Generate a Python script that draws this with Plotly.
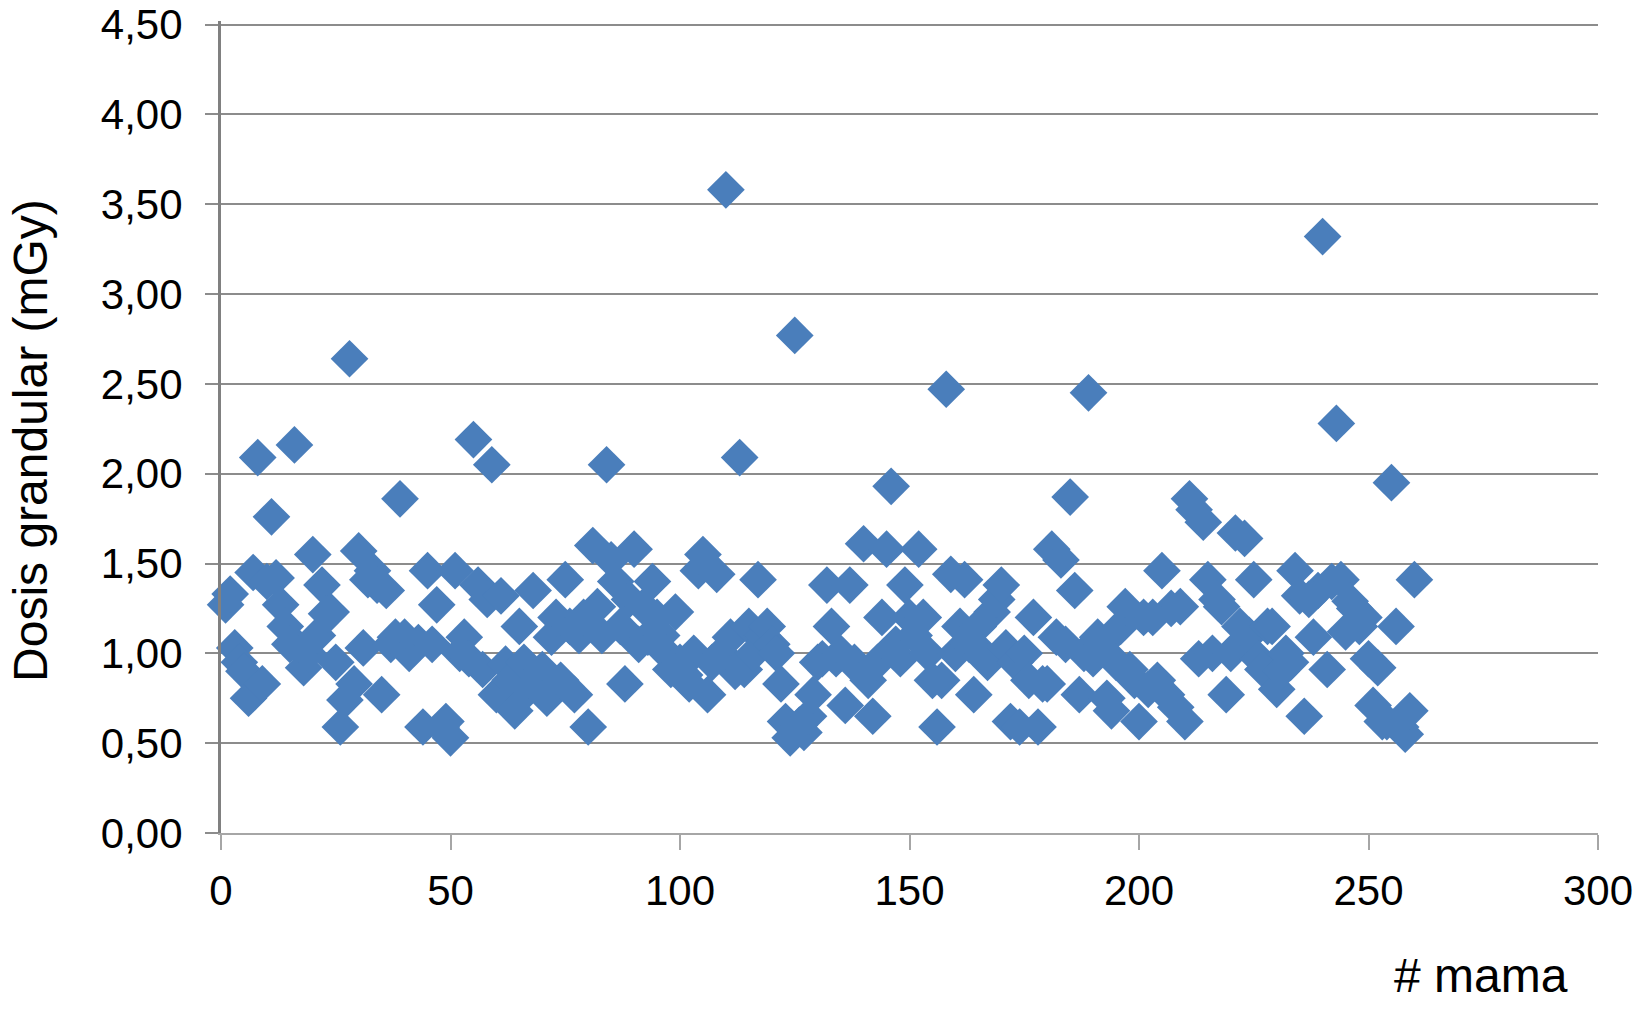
import plotly.graph_objects as go

# dose per breast (index 1..260)
mama = list(range(1, 261))
dosis = [
    1.27, 1.33, 1.03, 0.95, 0.90, 0.75, 1.45, 2.09, 0.83, 1.40,
    1.76, 1.42, 1.27, 1.15, 1.05, 2.16, 1.03, 0.92, 1.00, 1.55,
    1.10, 1.38, 1.22, 1.23, 0.95, 0.59, 0.74, 2.64, 0.83, 1.57,
    1.03, 1.41, 1.46, 1.38, 0.77, 1.35, 1.05, 1.09, 1.86, 1.09,
    1.00, 1.03, 1.06, 0.59, 1.46, 1.05, 1.27, 0.59, 0.62, 0.53,
    1.46, 1.00, 1.09, 0.97, 2.19, 1.38, 0.91, 1.30, 2.05, 0.77,
    1.32, 0.94, 0.85, 0.68, 1.15, 0.95, 0.80, 1.35, 0.88, 0.91,
    0.75, 1.09, 1.20, 0.85, 1.41, 1.15, 0.77, 1.10, 1.20, 0.59,
    1.60, 1.26, 1.10, 2.05, 1.52, 1.40, 1.15, 0.83, 1.30, 1.58,
    1.05, 1.26, 1.09, 1.40, 1.20, 1.10, 1.00, 0.91, 1.23, 0.95,
    0.88, 0.83, 1.00, 1.46, 1.55, 0.77, 0.95, 1.44, 1.00, 3.58,
    1.09, 0.90, 2.09, 0.91, 1.15, 1.00, 1.41, 1.10, 1.15, 1.05,
    1.00, 0.83, 0.62, 0.53, 2.77, 0.60, 0.56, 0.65, 0.77, 0.95,
    0.97, 1.38, 1.15, 0.97, 1.00, 0.71, 1.38, 0.95, 0.91, 1.61,
    0.85, 0.65, 0.95, 1.20, 1.58, 1.93, 1.05, 0.97, 1.38, 1.20,
    1.10, 1.58, 1.20, 1.00, 0.85, 0.59, 0.85, 2.47, 1.44, 1.00,
    1.15, 1.41, 1.05, 0.77, 1.15, 1.00, 0.95, 1.23, 1.30, 1.38,
    1.03, 0.62, 0.95, 0.59, 1.00, 0.85, 1.20, 0.59, 0.83, 0.83,
    1.58, 1.09, 1.52, 1.05, 1.87, 1.35, 0.77, 1.00, 2.45, 0.97,
    1.09, 1.05, 0.75, 0.68, 0.95, 1.15, 1.26, 0.91, 0.85, 0.62,
    1.20, 0.80, 1.20, 0.85, 1.46, 0.77, 1.25, 0.70, 1.26, 0.62,
    1.86, 1.80, 0.97, 1.73, 1.41, 1.00, 1.30, 1.26, 0.77, 1.00,
    1.67, 1.15, 1.64, 1.10, 1.41, 0.97, 0.91, 1.15, 1.15, 0.80,
    0.90, 1.00, 0.95, 1.46, 1.32, 0.65, 1.30, 1.09, 1.35, 3.32,
    0.91, 1.40, 2.28, 1.41, 1.12, 1.29, 1.25, 1.15, 1.20, 0.97,
    0.71, 0.92, 0.62, 0.62, 1.95, 1.15, 0.59, 0.55, 0.68, 1.41,
]

y_ticks = [0, 0.5, 1.0, 1.5, 2.0, 2.5, 3.0, 3.5, 4.0, 4.5]
x_ticks = [0, 50, 100, 150, 200, 250, 300]

font_family = "Liberation Sans, Arial, sans-serif"

fig = go.Figure()
fig.add_trace(go.Scatter(
    x=mama,
    y=dosis,
    mode='markers',
    marker=dict(symbol='diamond', size=29, color='#4A7EBB',
                line=dict(width=0)),
    cliponaxis=False,
    showlegend=False,
))

fig.update_layout(
    template='none',
    width=1635, height=1012,
    paper_bgcolor='white',
    plot_bgcolor='white',
    separators=',.',
    # y range goes a hair past 4.5 so the top gridline isn't dropped at the edge
    margin=dict(l=221, r=37, t=21, b=179, autoexpand=False),
    font=dict(family=font_family, size=42, color='black'),
    xaxis=dict(
        range=[0, 300], tickvals=x_ticks, automargin=False,
        showgrid=False, zeroline=False,
        showline=True, linecolor='#a6a6a6', linewidth=2,
        ticks='outside', ticklen=15, tickwidth=2, tickcolor='#a6a6a6',
        ticklabelstandoff=5, ticklabeloverflow='allow',
    ),
    yaxis=dict(
        range=[0, 4.52], tickvals=y_ticks, tickformat='.2f', automargin=False,
        showgrid=True, gridcolor='#8c8c8c', gridwidth=1.5,
        zeroline=False,
        showline=True, linecolor='#808080', linewidth=3,
        ticks='outside', ticklen=13, tickwidth=1.5, tickcolor='#8c8c8c',
        ticklabelstandoff=14, ticklabeloverflow='allow',
    ),
    annotations=[
        dict(text='Dosis grandular (mGy)', textangle=-90,
             x=-0.1380, y=0.484, xref='paper', yref='paper',
             xanchor='center', yanchor='middle', showarrow=False,
             font=dict(size=48)),
        dict(text='# mama', x=0.915, y=-0.176, xref='paper', yref='paper',
             xanchor='center', yanchor='middle', showarrow=False,
             font=dict(size=48)),
    ],
)

# drop the default 8px body margin so the figure fills the window exactly
fig.write_html("out.html", config={'displayModeBar': False},
               post_script="document.body.style.margin='0';")
